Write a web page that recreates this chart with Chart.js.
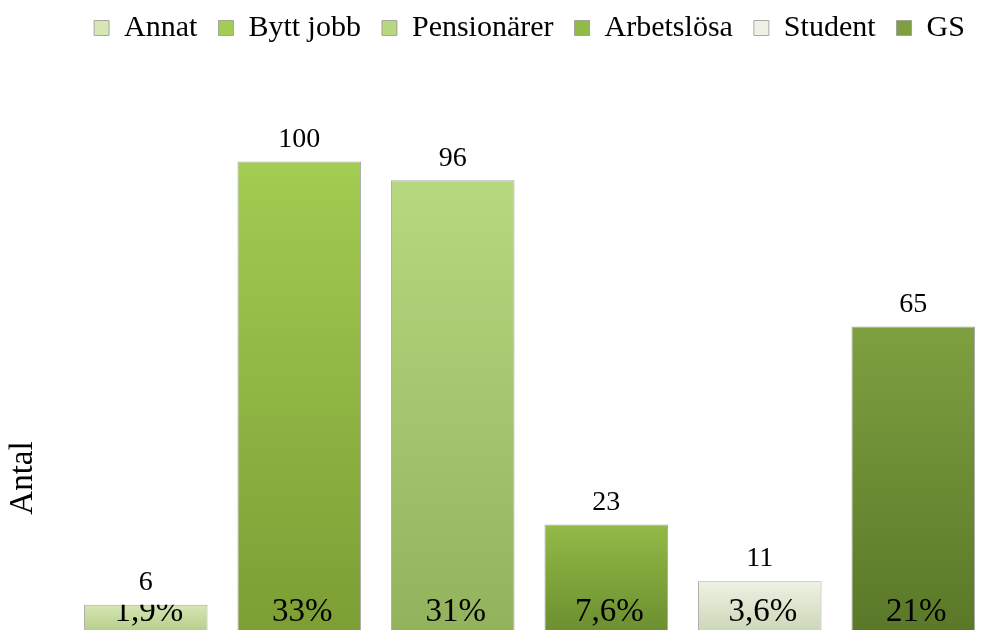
<!DOCTYPE html>
<html>
<head>
<meta charset="utf-8">
<script src="https://cdn.jsdelivr.net/npm/chart.js@4.4.1/dist/chart.umd.min.js"></script>
<style>
    html, body { margin: 0; padding: 0; background: #fff; overflow: hidden; }
    #wrap { width: 992px; height: 660px; position: relative; }
</style>
</head>
<body>
<div id="wrap"><canvas id="barChart"></canvas></div>
<script>
// data
var categories = ['Annat', 'Bytt jobb', 'Pensionärer', 'Arbetslösa', 'Student', 'GS']
var antal = [6, 100, 96, 23, 11, 65]
var andel = ['1,9%', '33%', '31%', '7,6%', '3,6%', '21%']

// top / bottom colour of each bar gradient
var topColors = ['#d6e6b4', '#a2cc52', '#b8d880', '#92ba46', '#eef2e4', '#7ea040']
var bottomColors = ['#b4cc88', '#7c9e34', '#92b25c', '#6c8e30', '#cbd6b6', '#5a7828']

var serif = '"Liberation Serif", "Times New Roman", serif'

function barFill(i) {
    return function (ctx) {
        var chart = ctx.chart
        if (ctx.type !== 'data' || !chart.chartArea) return bottomColors[i]
        var y = chart.scales.y
        var top = y.getPixelForValue(antal[i])
        var bottom = y.getPixelForValue(0)
        var g = chart.ctx.createLinearGradient(0, top, 0, bottom)
        g.addColorStop(0, topColors[i])
        g.addColorStop(1, bottomColors[i])
        return g
    }
}

// one dataset per category so the legend lists each of them
var datasets = categories.map(function (name, i) {
    return {
        label: name,
        data: categories.map(function (c, j) { return j === i ? antal[i] : null }),
        backgroundColor: barFill(i),
        borderColor: 'rgba(150,150,150,0.8)',
        borderWidth: 1
    }
})

var labelPlugin = {
    id: 'barLabels',
    afterDatasetsDraw: function (chart) {
        var c = chart.ctx
        chart.data.datasets.forEach(function (ds, i) {
            var bar = chart.getDatasetMeta(i).data[i]
            if (!bar) return
            c.save()
            c.fillStyle = '#000'
            c.textAlign = 'center'
            c.textBaseline = 'middle'
            c.font = '28px ' + serif
            c.fillText(String(antal[i]), bar.x, bar.y - 22)
            // share of total, clipped to the bar
            c.beginPath()
            c.rect(bar.x - bar.width / 2, bar.y, bar.width, bar.base - bar.y)
            c.clip()
            c.font = '33px ' + serif
            c.fillText(andel[i], bar.x + 3, 612)
            c.restore()
        })
    }
}

var axisTitle = {
    id: 'axisTitle',
    afterDraw: function (chart) {
        var c = chart.ctx
        c.save()
        c.translate(23, 478)
        c.rotate(-Math.PI / 2)
        c.fillStyle = '#000'
        c.font = '33px ' + serif
        c.textAlign = 'center'
        c.textBaseline = 'middle'
        c.fillText('Antal', 0, 0)
        c.restore()
    }
}

var barCanvas = document.getElementById('barChart').getContext('2d')
new Chart(barCanvas, {
    type: 'bar',
    data: { labels: categories, datasets: datasets },
    options: {
        responsive: true,
        maintainAspectRatio: false,
        animation: false,
        skipNull: true,
        categoryPercentage: 0.805,
        barPercentage: 1,
        layout: { padding: { left: 69, right: 2, top: -8, bottom: 27 } },
        scales: {
            x: { display: false },
            y: { display: false, min: 0, max: 123 }
        },
        plugins: {
            tooltip: { enabled: false },
            legend: {
                position: 'top',
                fullSize: false,
                labels: {
                    color: '#000',
                    font: { family: serif, size: 30 },
                    boxWidth: 15,
                    boxHeight: 15,
                    padding: 21
                }
            }
        }
    },
    plugins: [labelPlugin, axisTitle]
})
</script>
</body>
</html>
